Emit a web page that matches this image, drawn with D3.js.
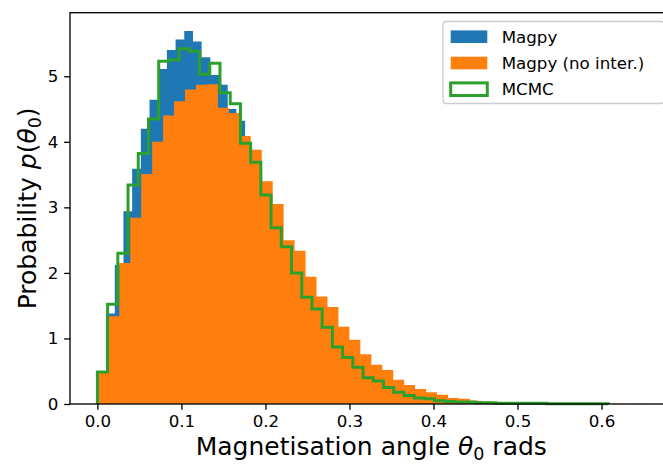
<!DOCTYPE html>
<html>
<head>
<meta charset="utf-8">
<script src="https://cdn.jsdelivr.net/npm/d3@7"></script>
<style>
  body { margin: 0; background: #fff; }
  svg { display: block; font-family: "DejaVu Sans", sans-serif; }
</style>
</head>
<body>
<svg id="svg"></svg>
<script>
//data (probability density per bin, 50 bins each)

let magpyRange = [0, 0.517];
let magpyValues = [0.45, 1.38, 2.12, 2.94, 3.59, 4.20, 4.64, 5.11, 5.40, 5.56,
  5.69, 5.53, 5.29, 5.02, 4.87, 4.50, 4.32, 3.80, 3.35, 3.30,
  3.00, 2.45, 2.30, 1.90, 1.85, 1.60, 1.40, 1.15, 0.95, 0.90,
  0.72, 0.58, 0.50, 0.36, 0.33, 0.27, 0.22, 0.17, 0.15, 0.12,
  0.08, 0.07, 0.05, 0.04, 0.03, 0.01, 0.01, 0.005, 0.005, 0.005];

let noInterRange = [0, 0.652];
let noInterValues = [0.48, 1.34, 2.15, 2.84, 3.51, 4.00, 4.40, 4.62, 4.80, 4.87,
  4.88, 4.52, 4.44, 4.09, 3.88, 3.40, 3.05, 2.50, 2.34, 1.94,
  1.64, 1.48, 1.18, 0.98, 0.76, 0.60, 0.52, 0.37, 0.29, 0.23,
  0.18, 0.14, 0.09, 0.08, 0.05, 0.04, 0.015, 0.01, 0.01, 0.005,
  0.005, 0.005, 0.003, 0.003, 0.002, 0.002, 0, 0.002, 0, 0.002];

let mcmcRange = [0, 0.608];
let mcmcValues = [0.49, 1.52, 2.30, 3.34, 3.82, 4.35, 5.23, 5.25, 5.42, 5.38,
  5.03, 5.20, 4.75, 4.58, 3.98, 3.69, 3.19, 2.69, 2.40, 2.00,
  1.63, 1.45, 1.17, 0.87, 0.71, 0.56, 0.40, 0.35, 0.25, 0.18,
  0.13, 0.09, 0.08, 0.05, 0.04, 0.03, 0.03, 0.02, 0.02, 0.01,
  0.01, 0.01, 0.01, 0.01, 0.005, 0.005, 0.005, 0.005, 0.005, 0.005];

let legendLabels = ["Magpy", "Magpy (no inter.)", "MCMC"];
let xTicks = [0.0, 0.1, 0.2, 0.3, 0.4, 0.5, 0.6];
let yTicks = [0, 1, 2, 3, 4, 5];

//variables

let svg = d3.select("#svg");
let width = 663;
let height = 467;

let plotLeft = 70, plotRight = 672.6, plotTop = 12.7, plotBottom = 404;
let fontSize = 16.67;
let labelSize = 25;

let blue = "#1f77b4", orange = "#ff7f0e", green = "#2ca02c";

let xScale = d3.scaleLinear().domain([-0.0326, 0.6846]).range([plotLeft, plotRight]);
let yScale = d3.scaleLinear().domain([0, 5.97]).range([plotBottom, plotTop]);

//functions

let makeBins = (range, values) => {
  let w = (range[1] - range[0]) / values.length;
  return values.map((v, i) => ({ x0: range[0] + i * w, x1: range[0] + (i + 1) * w, v: v }));
}

// outline points of a histogram: up at first edge, flat over each bin, down at last edge
let stepPoints = (bins) => {
  let pts = [[bins[0].x0, 0]];
  bins.forEach((d) => {
    pts.push([d.x0, d.v]);
    pts.push([d.x1, d.v]);
  });
  pts.push([bins[bins.length - 1].x1, 0]);
  return pts;
}

let makeBackground = () => {
  svg.attr("width", width).attr("height", height);
  svg.append("rect").attr("width", width).attr("height", height).attr("fill", "#fff");
}

// filled histogram as one shape so there are no seams between bars
let drawFilled = (bins, color) => {
  let area = d3.area()
    .x((d) => xScale(d[0]))
    .y0(yScale(0))
    .y1((d) => yScale(d[1]));
  svg.append("path")
    .attr("d", area(stepPoints(bins)))
    .attr("fill", color);
}

let drawStep = (bins, color) => {
  let line = d3.line().x((d) => xScale(d[0])).y((d) => yScale(d[1]));
  svg.append("path")
    .attr("d", line(stepPoints(bins)))
    .attr("fill", "none")
    .attr("stroke", color)
    .attr("stroke-width", 3)
    .attr("stroke-linejoin", "miter");
}

let makeAxes = () => {
  let xAxis = d3.axisBottom(xScale)
    .tickValues(xTicks)
    .tickFormat(d3.format(".1f"))
    .tickSize(5.8)
    .tickPadding(5.8);
  let yAxis = d3.axisLeft(yScale)
    .tickValues(yTicks)
    .tickFormat(d3.format("d"))
    .tickSize(5.8)
    .tickPadding(5.8);

  let gx = svg.append("g")
    .attr("transform", "translate(0," + plotBottom + ")")
    .call(xAxis);
  let gy = svg.append("g")
    .attr("transform", "translate(" + plotLeft + ",0)")
    .call(yAxis);

  [gx, gy].forEach((g) => {
    g.select(".domain").remove();
    g.selectAll("line").attr("stroke", "#000").attr("stroke-width", 1.33);
    g.selectAll("text")
      .attr("fill", "#000")
      .style("font-size", fontSize + "px")
      .style("font-family", "DejaVu Sans");
  });

  // spines
  svg.append("rect")
    .attr("x", plotLeft)
    .attr("y", plotTop)
    .attr("width", plotRight - plotLeft)
    .attr("height", plotBottom - plotTop)
    .attr("fill", "none")
    .attr("stroke", "#000")
    .attr("stroke-width", 1.33);

  // axis labels
  let xl = svg.append("text")
    .attr("x", (plotLeft + plotRight) / 2)
    .attr("y", 455)
    .attr("text-anchor", "middle")
    .style("font-size", labelSize + "px");
  xl.append("tspan").text("Magnetisation angle ");
  xl.append("tspan").attr("font-style", "italic").text("θ");
  xl.append("tspan").attr("font-size", labelSize * 0.7 + "px").attr("dy", 5).text("0");
  xl.append("tspan").attr("dy", -5).text(" rads");

  let yl = svg.append("text")
    .attr("transform", "translate(36," + (plotTop + plotBottom) / 2 + ") rotate(-90)")
    .attr("text-anchor", "middle")
    .style("font-size", labelSize + "px");
  yl.append("tspan").text("Probability ");
  yl.append("tspan").attr("font-style", "italic").text("p");
  yl.append("tspan").text("(");
  yl.append("tspan").attr("font-style", "italic").text("θ");
  yl.append("tspan").attr("font-size", labelSize * 0.7 + "px").attr("dy", 5).text("0");
  yl.append("tspan").attr("dy", -5).text(")");
}

let makeLegend = () => {
  let g = svg.append("g");
  g.append("rect")
    .attr("x", 443)
    .attr("y", 21.5)
    .attr("width", 221)
    .attr("height", 82)
    .attr("rx", 3.3)
    .attr("fill", "#fff")
    .attr("fill-opacity", 0.8)
    .attr("stroke", "#cccccc")
    .attr("stroke-width", 1.33);

  let rowY = [36.7, 63, 89.2];
  let colors = [blue, orange, green];
  legendLabels.forEach((label, i) => {
    let r = g.append("rect")
      .attr("x", 450.7)
      .attr("y", rowY[i] - 6.3)
      .attr("width", 36.6)
      .attr("height", 12.6);
    if (i < 2) {
      r.attr("fill", colors[i]);
    } else {
      r.attr("fill", "none").attr("stroke", colors[i]).attr("stroke-width", 3);
    }
    g.append("text")
      .attr("x", 501.7)
      .attr("y", rowY[i])
      .attr("dy", "0.36em")
      .style("font-size", fontSize + "px")
      .text(label);
  });
}

//calls

makeBackground();
drawFilled(makeBins(magpyRange, magpyValues), blue);
drawFilled(makeBins(noInterRange, noInterValues), orange);
drawStep(makeBins(mcmcRange, mcmcValues), green);
makeAxes();
makeLegend();
</script>
</body>
</html>
